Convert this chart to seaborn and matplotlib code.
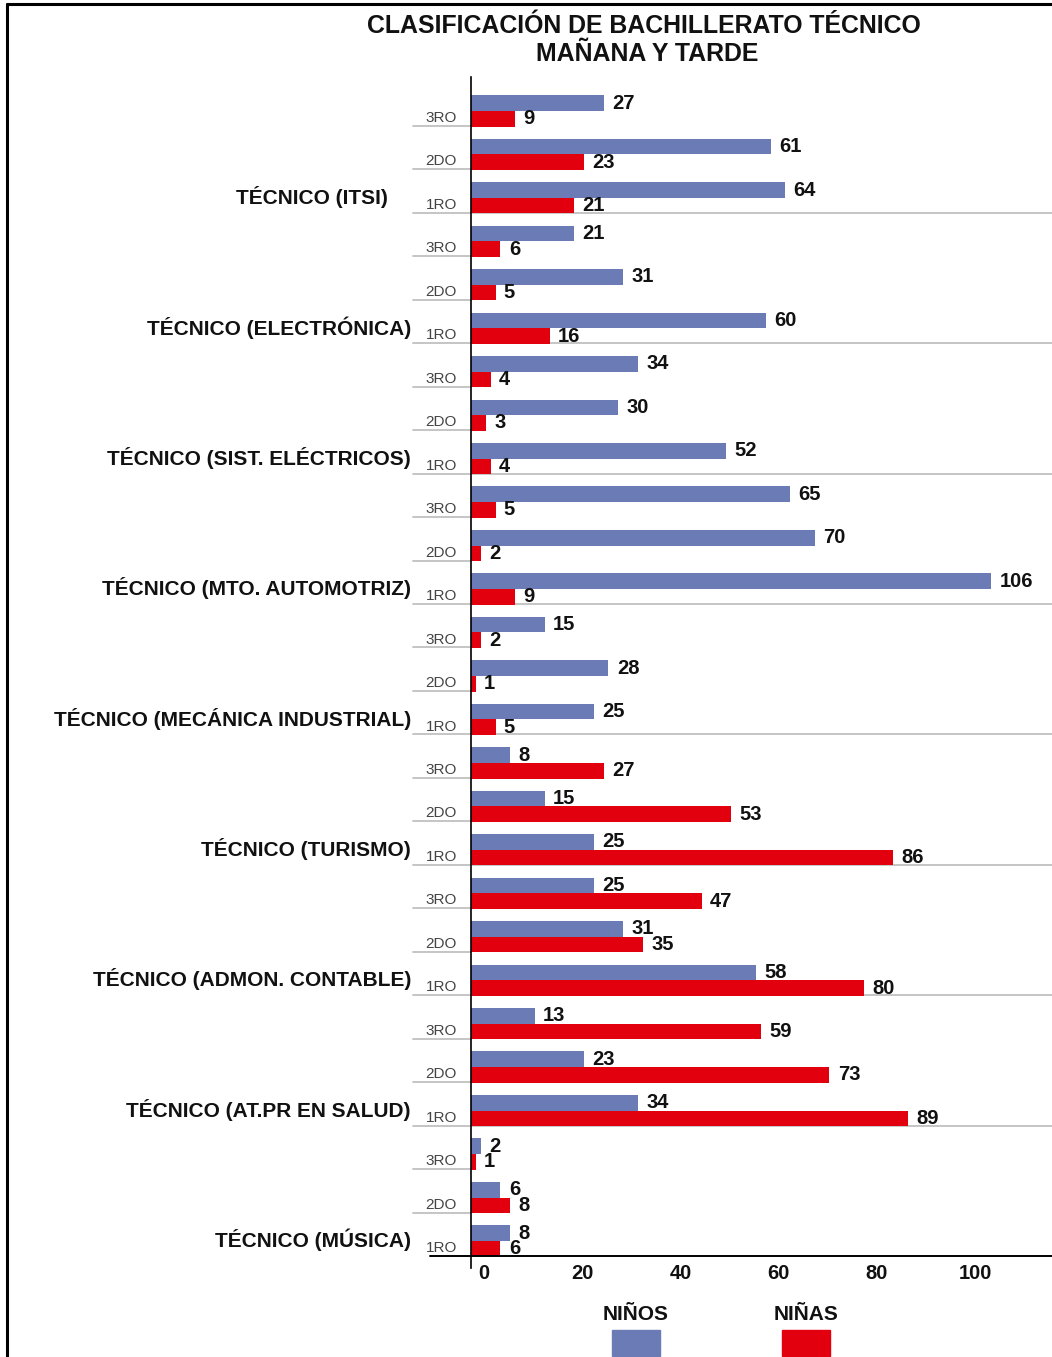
import matplotlib
matplotlib.use("Agg")
import matplotlib.pyplot as plt
import matplotlib.transforms as mtransforms
from matplotlib.lines import Line2D
from matplotlib.patches import Rectangle
import seaborn as sns
import pandas as pd

sns.set_theme(style="white")
plt.rcParams['font.family'] = ['Liberation Sans', 'DejaVu Sans']

# ---------------- data ----------------
categories = ["TÉCNICO (ITSI)", "TÉCNICO (ELECTRÓNICA)", "TÉCNICO (SIST. ELÉCTRICOS)",
              "TÉCNICO (MTO. AUTOMOTRIZ)", "TÉCNICO (MECÁNICA INDUSTRIAL)", "TÉCNICO (TURISMO)",
              "TÉCNICO (ADMON. CONTABLE)", "TÉCNICO (AT.PR EN SALUD)", "TÉCNICO (MÚSICA)"]
grades = ["3RO", "2DO", "1RO"]
ninos = [27, 61, 64, 21, 31, 60, 34, 30, 52, 65, 70, 106, 15, 28, 25,
         8, 15, 25, 25, 31, 58, 13, 23, 34, 2, 6, 8]
ninas = [9, 23, 21, 6, 5, 16, 4, 3, 4, 5, 2, 9, 2, 1, 5,
         27, 53, 86, 47, 35, 80, 59, 73, 89, 1, 8, 6]
series = ["NIÑOS", "NIÑAS"]
colors = ["#6b7bb6", "#e2000f"]
title = "CLASIFICACIÓN DE BACHILLERATO TÉCNICO\nMAÑANA Y TARDE"
xticks = [0, 20, 40, 60, 80, 100]

rows = [f"{c}|{g}" for c in categories for g in grades]
df = pd.DataFrame({
    "row": rows * 2,
    "valor": ninos + ninas,
    "sexo": [series[0]] * len(rows) + [series[1]] * len(rows),
})

W, H = 1052, 1357
fig = plt.figure(figsize=(W / 100, H / 100), dpi=100)
ax = fig.add_axes([471 / W, 1 - 1256 / H, (W - 471) / W, (1256 - 77) / H])

sns.barplot(data=df, y="row", x="valor", hue="sexo", order=rows, hue_order=series,
            palette=colors, orient="h", width=0.72, gap=0, dodge=True, ax=ax,
            legend=False, saturation=1, edgecolor="none", linewidth=0)

n = len(rows)
ax.set_xlim(0, (W - 471) / 4.91)
ax.set_ylim(n - 1 + 0.345, -0.78)
ax.set_ylabel("")
ax.set_xlabel("")
ax.set_yticks([])
ax.set_xticks(xticks)
ax.set_xticklabels([])
ax.tick_params(axis="x", length=0)
# tick labels drawn slightly right of their tick, as in the reference
xlab_tr = mtransforms.blended_transform_factory(ax.transData, ax.transAxes) + \
    mtransforms.ScaledTranslation(13 / 100, 0, fig.dpi_scale_trans)
for t in xticks:
    ax.text(t, -0.007, str(t), transform=xlab_tr, ha="center", va="top",
            fontsize=14.5, fontweight="bold", color="#111111")
for s in ["top", "right"]:
    ax.spines[s].set_visible(False)
ax.spines["left"].set_color("black")
ax.spines["left"].set_linewidth(1.2)
ax.spines["left"].set_bounds(n - 1 + 0.345 + 0.27, -0.78)
ax.spines["bottom"].set_visible(False)

# value labels
for container, vals in zip(ax.containers, [ninos, ninas]):
    ax.bar_label(container, labels=[str(v) for v in vals], padding=6,
                 fontsize=14.5, fontweight="bold", color="#111111")

# row boundaries, grade labels, category labels
blend = mtransforms.blended_transform_factory(fig.transFigure, ax.transData)
x_left = 413 / W
x_axis = 471 / W
for i, r in enumerate(rows):
    cat, g = r.split("|")
    yb = i + 0.345
    last_in_cat = (g == grades[-1])
    if i == n - 1:
        ax.add_line(Line2D([430 / W, 1.0], [yb, yb], transform=blend, color="black",
                           lw=1.4, clip_on=False, zorder=5))
    elif last_in_cat:
        ax.add_line(Line2D([x_left, 1.0], [yb, yb], transform=blend, color="#c0c0c0",
                           lw=1.3, clip_on=False, zorder=0))
    else:
        ax.add_line(Line2D([x_left, x_axis], [yb, yb], transform=blend, color="#c0c0c0",
                           lw=1.3, clip_on=False, zorder=0))
    ax.text(457 / W, yb - 0.02, g, transform=blend, ha="right", va="bottom",
            fontsize=11, color="#444444")
    if last_in_cat:
        xr = 388 if cat == "TÉCNICO (ITSI)" else 411
        ax.text(xr / W, i - 0.02, cat, transform=blend, ha="right", va="center",
                fontsize=15, fontweight="bold", color="#111111")

# title
fig.text(644 / W, 1 - 26 / H, title.split("\n")[0], ha="center", va="center",
         fontsize=17.9, fontweight="bold", color="#111111")
fig.text(647 / W, 1 - 54 / H, title.split("\n")[1], ha="center", va="center",
         fontsize=17.9, fontweight="bold", color="#111111")

# legend
for lx, name, col in [(636, series[0], colors[0]), (806, series[1], colors[1])]:
    fig.text(lx / W, 1 - 1315 / H, name, ha="center", va="center",
             fontsize=15, fontweight="bold", color="#111111")
    fig.add_artist(Rectangle(((lx - 24) / W, 1 - 1356 / H), 48 / W, 26 / H,
                             transform=fig.transFigure, color=col))

# outer frame (left and top)
fig.add_artist(Line2D([7 / W, 7 / W], [0, 1 - 4 / H], transform=fig.transFigure,
                      color="black", lw=2.2))
fig.add_artist(Line2D([7 / W, 1], [1 - 4 / H, 1 - 4 / H], transform=fig.transFigure,
                      color="black", lw=2.2))

fig.savefig("out.png", dpi=100)
